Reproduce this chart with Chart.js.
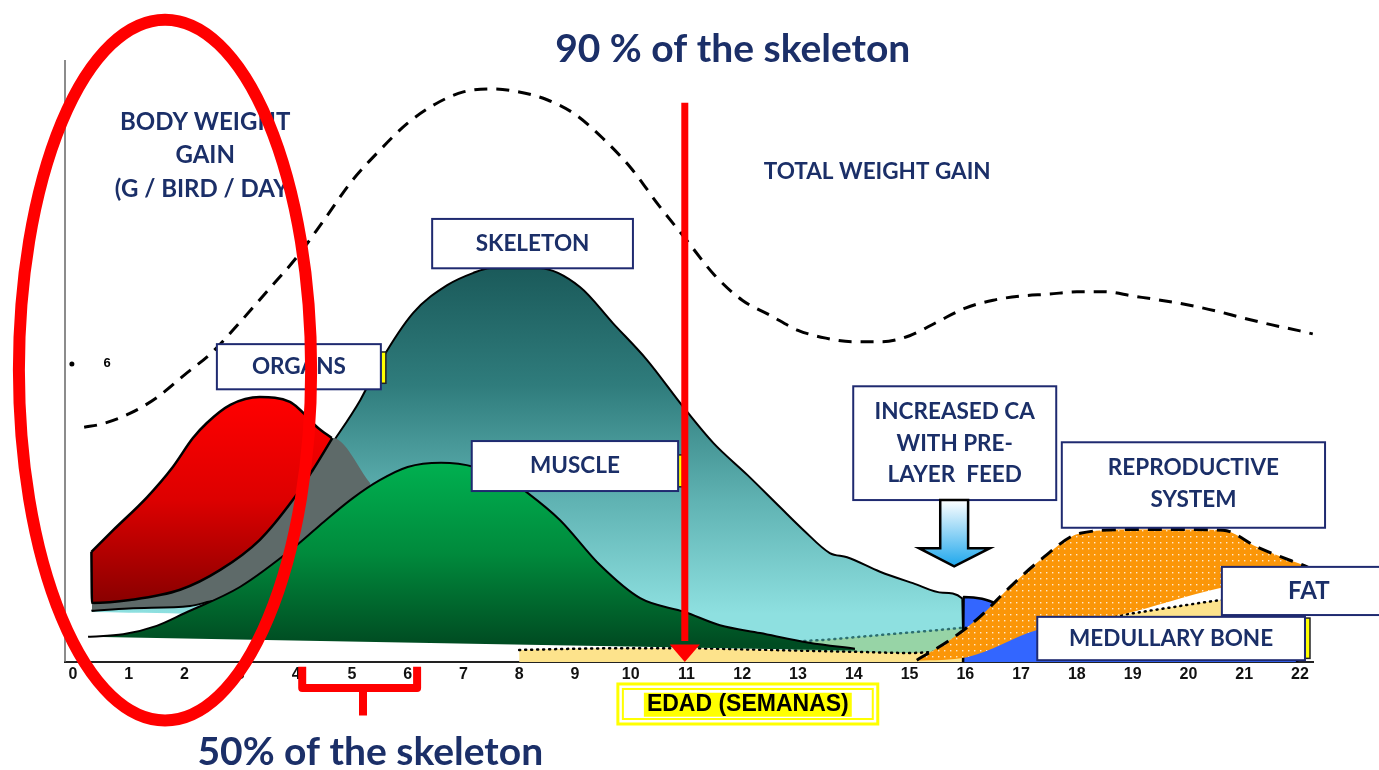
<!DOCTYPE html>
<html lang="en">
<head>
    <meta charset="UTF-8" />
    <title>Body weight gain (g / bird / day)</title>
    <style>
        body { margin: 0; background: #fff; }
        canvas { display: block; }
    </style>
</head>
<body>
    <canvas id="gainChart" width="1379" height="770"></canvas>

    <script src="https://cdn.jsdelivr.net/npm/chart.js@4.4.0/dist/chart.umd.min.js"></script>
    <script>
        // x axis: age in weeks
        const weekTicks = [0, 1, 2, 3, 4, 5, 6, 7, 8, 9, 10, 11, 12, 13, 14, 15, 16, 17, 18, 19, 20, 21, 22];

        // total weight gain (dashed line)
        const totalWeeks = [0.2, 0.5, 1, 1.5, 2, 2.5, 3, 3.5, 4, 4.5, 5, 5.5, 6, 6.5, 7, 7.5, 8, 8.5, 9, 9.5, 10, 10.5, 11, 11.5, 12, 12.5, 13, 13.5, 14, 14.5, 15, 15.5, 16, 16.5, 17, 17.5, 18, 18.5, 19, 19.5, 20, 20.5, 21, 21.5, 22, 22.23];
        const totalGain = [39.0, 39.5, 41.2, 43.9, 47.7, 51.5, 56.5, 61.8, 67.1, 73.4, 79.9, 85.0, 89.5, 92.7, 94.7, 95.2, 94.7, 93.4, 91.0, 87.0, 82.1, 75.9, 70.1, 64.3, 60.1, 57.6, 55.1, 53.8, 53.2, 53.2, 54.2, 56.5, 58.8, 60.1, 60.8, 61.1, 61.5, 61.5, 60.8, 60.1, 59.3, 58.3, 57.1, 56.0, 55.0, 54.5];

        // skeleton (top edge and lower edge)
        const skeletonWeeks = [0.33, 1.02, 1.92, 2.64, 3.35, 3.94, 4.30, 4.66, 5.15, 5.5, 6.1, 6.71, 7.17, 7.48, 8.37, 9.09, 9.68, 10.29, 10.94, 11.48, 12.1, 12.68, 13.1, 13.57, 13.88, 14.47, 15.06, 15.6, 15.94, 15.97];
        const skeletonGain = [8.5, 10.0, 11.6, 15.0, 19.9, 26.6, 31.6, 36.5, 43.5, 49.7, 58.0, 62.6, 64.6, 65.4, 65.4, 62.3, 56.3, 50.2, 42.4, 36.4, 31.0, 25.7, 21.9, 18.1, 17.4, 15.0, 13.1, 11.5, 10.6, 0];
        const skeletonBaseWeeks = [0.33, 1.0, 2.0, 2.5, 3.0, 5.0, 13.4, 13.6, 15.97];
        const skeletonBaseGain = [8.3, 8.2, 8.0, 7.0, 5.0, 4.2, 3.2, 3.0, 0];

        // shadow band between organs and muscle
        const shadowWeeks = [0.34, 1.02, 1.92, 2.64, 3.35, 3.94, 4.30, 4.66, 5.33];
        const shadowGain = [9.6, 10.3, 12.0, 15.3, 20.3, 26.9, 31.9, 37.2, 29.7];
        const shadowBaseWeeks = [0.34, 1.0, 2.1, 2.6, 3.2, 5.4];
        const shadowBaseGain = [8.5, 8.9, 9.3, 10.2, 9.0, 8.0];

        // light green band under the skeleton tail
        const tailWeeks = [12.9, 13.5, 14, 14.5, 15, 15.5, 15.96];
        const tailGain = [3.4, 3.7, 4.1, 4.5, 4.9, 5.3, 5.7];

        // fat
        const fatWeeks = [8, 9, 10, 11, 12, 13, 14, 15, 16, 17, 18, 18.77, 19.5, 20.6, 21.5];
        const fatGain = [2.0, 2.2, 2.3, 2.3, 2.1, 1.9, 1.7, 1.5, 2.5, 5.0, 7.2, 7.8, 8.8, 10.3, 11.0];

        // muscle (top edge and lower edge)
        const muscleWeeks = [0.27, 0.9, 1.5, 2.0, 3.0, 4.0, 4.5, 5.0, 5.5, 6.0, 6.6, 7.2, 7.9, 8.15, 8.73, 9.45, 10.17, 10.97, 11.6, 12.32, 13.2, 14.02];
        const muscleGain = [4.2, 4.6, 6.0, 8.1, 12.5, 19.3, 23.3, 27.1, 30.2, 32.4, 33.1, 32.4, 29.7, 28.1, 23.6, 16.1, 10.6, 8.3, 6.1, 4.8, 3.2, 2.2];
        const muscleBaseWeeks = [0.27, 14.02];
        const muscleBaseGain = [4.2, 1.9];

        // organs (top edge and lower edge, the lower edge holds the left side)
        const organsWeeks = [0.33, 0.72, 1.33, 1.79, 2.15, 2.40, 2.82, 3.35, 3.89, 4.07, 4.38, 4.64];
        const organsGain = [18.3, 21.9, 27.4, 32.4, 37.2, 39.7, 42.7, 44.0, 43.2, 41.9, 39.0, 37.2];
        const organsBaseWeeks = [0.33, 0.34, 1.02, 1.92, 2.64, 3.35, 3.94, 4.30, 4.65];
        const organsBaseGain = [18.3, 9.8, 10.3, 12.0, 15.3, 20.3, 26.9, 31.9, 37.2];

        // medullary bone
        const boneWeeks = [15.96, 15.97, 16.3, 16.6, 17.0, 17.5, 18.0, 21.9, 21.95];
        const boneGain = [0, 10.8, 10.5, 9.5, 7.5, 6.5, 6.0, 6.0, 0];

        // reproductive system (top edge and lower edge)
        const reproWeeks = [15.13, 15.73, 16.26, 16.75, 17.34, 18.06, 19.0, 20.0, 20.62, 21.23, 21.82, 22.13, 22.23];
        const reproGain = [0.3, 3.7, 7.5, 12.0, 16.9, 21.4, 22.0, 22.0, 21.9, 19.1, 16.9, 15.8, 15.2];
        const reproBaseWeeks = [15.13, 16.03, 17.29, 18.77, 20.57, 22.23];
        const reproBaseGain = [0.2, 0.8, 5.3, 7.8, 12.3, 14.8];

        const navy = '#1b2f68';

        function pts(xs, ys) {
            return xs.map((x, i) => ({ x: x, y: ys[i] }));
        }

        // vertical gradient between two y values
        function vGradient(topVal, bottomVal, colors) {
            return function (context) {
                const chart = context.chart;
                if (!chart.chartArea) return colors[0];
                const y = chart.scales.y;
                const g = chart.ctx.createLinearGradient(0, y.getPixelForValue(topVal), 0, y.getPixelForValue(bottomVal));
                colors.forEach((c, i) => g.addColorStop(i / (colors.length - 1), c));
                return g;
            };
        }

        function dotPattern() {
            const c = document.createElement('canvas');
            c.width = 6;
            c.height = 6;
            const p = c.getContext('2d');
            p.fillStyle = '#fb9608';
            p.fillRect(0, 0, 6, 6);
            p.fillStyle = 'rgba(255,255,255,0.8)';
            p.fillRect(2, 2, 1.4, 1.4);
            return p.createPattern(c, 'repeat');
        }

        const line = { pointRadius: 0, cubicInterpolationMode: 'monotone', borderColor: '#000' };

        // drawing of labels, arrows and marks on top of the chart
        const notesPlugin = {
            id: 'notes',
            beforeDatasetsDraw(chart) {
                const ctx = chart.ctx;
                const a = chart.chartArea;
                ctx.save();
                ctx.strokeStyle = '#666';
                ctx.lineWidth = 1.5;
                ctx.beginPath();
                ctx.moveTo(a.left, a.top);
                ctx.lineTo(a.left, a.bottom);
                ctx.stroke();
                ctx.restore();
            },
            afterDraw(chart) {
                const ctx = chart.ctx;
                const X = w => chart.scales.x.getPixelForValue(w);
                const Y = v => chart.scales.y.getPixelForValue(v);
                const boldLato = s => 'bold ' + s + 'px Lato, "Open Sans", sans-serif';

                function text(str, w, v, size, color, font) {
                    ctx.font = font || boldLato(size);
                    ctx.fillStyle = color || navy;
                    ctx.textAlign = 'center';
                    ctx.textBaseline = 'middle';
                    ctx.fillText(str, X(w), Y(v));
                }

                function box(w1, v1, w2, v2, lines, size) {
                    const x = X(w1), y = Y(v1), bw = X(w2) - x, bh = Y(v2) - y;
                    ctx.fillStyle = '#fff';
                    ctx.fillRect(x, y, bw, bh);
                    ctx.strokeStyle = '#1f2a70';
                    ctx.lineWidth = 2;
                    ctx.strokeRect(x, y, bw, bh);
                    lines.forEach(l => text(l[0], l[1] === undefined ? (w1 + w2) / 2 : l[1], l[2], size));
                }

                function tab(w1, v1, w2, v2) {
                    const x = X(w1), y = Y(v1);
                    ctx.fillStyle = '#ffff00';
                    ctx.fillRect(x, y, X(w2) - x, Y(v2) - y);
                    ctx.strokeStyle = '#222';
                    ctx.lineWidth = 1.5;
                    ctx.strokeRect(x, y, X(w2) - x, Y(v2) - y);
                }

                ctx.save();

                // y axis marker
                ctx.fillStyle = '#000';
                ctx.beginPath();
                ctx.arc(X(-0.02), Y(49.5), 2.5, 0, Math.PI * 2);
                ctx.fill();
                text('6', 0.61, 49.6, 0, '#000', 'bold 13px "Liberation Sans", Arial, sans-serif');

                // label boxes
                tab(5.52, 51.5, 5.61, 46.3);
                box(2.58, 52.8, 5.52, 45.3, [['ORGANS', undefined, 49.1]], 22.5);
                box(6.44, 73.6, 10.04, 65.4, [['SKELETON', undefined, 69.5]], 22.5);
                tab(10.85, 34.4, 10.93, 29.1);
                box(7.15, 36.7, 10.85, 28.4, [['MUSCLE', undefined, 32.6]], 22.5);
                box(13.99, 45.8, 17.63, 26.9, [['INCREASED CA', undefined, 41.5], ['WITH PRE-', undefined, 36.2], ['LAYER  FEED', undefined, 31.1]], 22.5);
                box(17.73, 36.5, 22.45, 22.3, [['REPRODUCTIVE', undefined, 32.2], ['SYSTEM', undefined, 26.9]], 22.5);
                box(20.6, 15.8, 23.6, 7.8, [['FAT', 22.16, 11.8]], 24);
                tab(22.09, 7.3, 22.18, 0.6);
                box(17.29, 7.5, 22.09, 0.3, [['MEDULLARY BONE', undefined, 3.9]], 22.5);

                // blue arrow under the pre-layer feed box
                const g = ctx.createLinearGradient(0, Y(26.9), 0, Y(15.9));
                g.addColorStop(0, '#ffffff');
                g.addColorStop(1, '#1ea7ec');
                ctx.beginPath();
                ctx.moveTo(X(15.55), Y(26.9));
                ctx.lineTo(X(16.05), Y(26.9));
                ctx.lineTo(X(16.05), Y(18.9));
                ctx.lineTo(X(16.44), Y(18.9));
                ctx.lineTo(X(15.80), Y(15.9));
                ctx.lineTo(X(15.17), Y(18.9));
                ctx.lineTo(X(15.55), Y(18.9));
                ctx.closePath();
                ctx.fillStyle = g;
                ctx.fill();
                ctx.strokeStyle = '#000';
                ctx.lineWidth = 2.5;
                ctx.stroke();

                // free texts
                text('BODY WEIGHT', 2.37, 89.7, 24);
                text('GAIN', 2.37, 84.1, 24);
                text('(G / BIRD / DAY)', 2.37, 78.6, 24);
                text('TOTAL WEIGHT GAIN', 14.42, 81.4, 22.5);
                text('90 % of the skeleton', 11.83, 101.7, 39);
                text('50% of the skeleton', 5.33, -15.0, 39);

                // axis title box
                const ex = X(9.77), ey = Y(-3.65), ew = X(14.43) - ex, eh = Y(-10.3) - ey;
                ctx.strokeStyle = '#ffff00';
                ctx.lineWidth = 3;
                ctx.strokeRect(ex, ey, ew, eh);
                ctx.lineWidth = 2;
                ctx.strokeRect(ex + 5, ey + 5, ew - 10, eh - 10);
                const edadFont = 'bold 23px "Liberation Sans", Arial, sans-serif';
                ctx.font = edadFont;
                const tw = ctx.measureText('EDAD (SEMANAS)').width;
                ctx.fillStyle = '#ffff00';
                ctx.fillRect(X(12.10) - tw / 2 - 3, Y(-7.1) - 12, tw + 6, 24);
                text('EDAD (SEMANAS)', 12.10, -7.1, 0, '#000', edadFont);

                // red arrow at week 11
                ctx.strokeStyle = '#ff0000';
                ctx.fillStyle = '#ff0000';
                ctx.lineWidth = 7;
                ctx.beginPath();
                ctx.moveTo(X(10.97), Y(92.9));
                ctx.lineTo(X(10.97), Y(3.5));
                ctx.stroke();
                ctx.beginPath();
                ctx.moveTo(X(10.70), Y(2.9));
                ctx.lineTo(X(11.24), Y(2.9));
                ctx.lineTo(X(10.97), Y(0));
                ctx.closePath();
                ctx.fill();

                // red ellipse around the first weeks
                ctx.lineWidth = 12;
                ctx.beginPath();
                ctx.ellipse(X(1.65), Y(48.5), X(1.65 + 2.62) - X(1.65), Y(48.5 - 58.2) - Y(48.5), 0, 0, Math.PI * 2);
                ctx.stroke();

                // red brace under weeks 4 to 6
                ctx.lineWidth = 8;
                ctx.lineJoin = 'round';
                ctx.beginPath();
                ctx.moveTo(X(4.11), Y(-0.8));
                ctx.lineTo(X(4.11), Y(-4.3));
                ctx.lineTo(X(6.17), Y(-4.3));
                ctx.lineTo(X(6.17), Y(-0.8));
                ctx.moveTo(X(5.2), Y(-4.3));
                ctx.lineTo(X(5.2), Y(-8.9));
                ctx.stroke();

                ctx.restore();
            }
        };

        const chart = new Chart(document.getElementById('gainChart').getContext('2d'), {
            type: 'line',
            data: {
                datasets: [
                    Object.assign({}, line, {
                        label: 'Skeleton', data: pts(skeletonWeeks, skeletonGain), fill: '+1', borderWidth: 2, order: 10,
                        backgroundColor: vGradient(65, 8, ['#1b5b5b', '#2f7c7c', '#5fb2b2', '#8ee0e0'])
                    }),
                    Object.assign({}, line, { label: 'skeleton base', data: pts(skeletonBaseWeeks, skeletonBaseGain), fill: false, borderWidth: 0, order: 11 }),
                    Object.assign({}, line, {
                        label: 'tail', data: pts(tailWeeks, tailGain), fill: 'origin', backgroundColor: '#97d4a6',
                        borderColor: '#2d6f70', borderWidth: 2.5, borderDash: [1, 5], borderCapStyle: 'round', order: 9
                    }),
                    Object.assign({}, line, {
                        label: 'Fat', data: pts(fatWeeks, fatGain), fill: 'origin', backgroundColor: '#fde38c',
                        borderWidth: 2.5, borderDash: [1, 5], borderCapStyle: 'round', order: 8
                    }),
                    Object.assign({}, line, { label: 'shadow', data: pts(shadowWeeks, shadowGain), fill: '+1', backgroundColor: '#5e6a69', borderWidth: 0, order: 7 }),
                    Object.assign({}, line, { label: 'shadow base', data: pts(shadowBaseWeeks, shadowBaseGain), fill: false, borderWidth: 2, order: 6 }),
                    Object.assign({}, line, {
                        label: 'Muscle', data: pts(muscleWeeks, muscleGain), fill: '+1', borderWidth: 2, order: 5,
                        backgroundColor: vGradient(33, 3, ['#00b050', '#008a3c', '#004c22'])
                    }),
                    Object.assign({}, line, { label: 'muscle base', data: pts(muscleBaseWeeks, muscleBaseGain), fill: false, borderWidth: 0, order: 12 }),
                    Object.assign({}, line, {
                        label: 'Organs', data: pts(organsWeeks, organsGain), fill: '+1', borderWidth: 2.5, order: 4,
                        backgroundColor: vGradient(44, 10, ['#ff0000', '#dd0000', '#8a0000'])
                    }),
                    Object.assign({}, line, { label: 'organs base', data: pts(organsBaseWeeks, organsBaseGain), fill: false, borderWidth: 2.5, order: 3 }),
                    Object.assign({}, line, {
                        label: 'Medullary bone', data: pts(boneWeeks, boneGain), fill: 'origin', backgroundColor: '#3366ff',
                        borderWidth: 2.5, order: 2
                    }),
                    Object.assign({}, line, {
                        label: 'Reproductive system', data: pts(reproWeeks, reproGain), fill: '+1', backgroundColor: dotPattern(),
                        borderWidth: 3, borderDash: [14, 9], order: 1
                    }),
                    Object.assign({}, line, { label: 'repro base', data: pts(reproBaseWeeks, reproBaseGain), fill: false, borderWidth: 0, order: 13 }),
                    Object.assign({}, line, {
                        label: 'Total weight gain', data: pts(totalWeeks, totalGain), fill: false,
                        borderWidth: 3, borderDash: [13, 9], order: 0
                    })
                ]
            },
            options: {
                responsive: false,
                animation: false,
                devicePixelRatio: 1,
                layout: { padding: { left: 65, top: 60, right: 66, bottom: 76 } },
                plugins: { legend: { display: false }, tooltip: { enabled: false } },
                scales: {
                    x: {
                        type: 'linear',
                        min: -0.1434,
                        max: 22.234,
                        grid: { display: false },
                        border: { display: true, color: '#222', width: 2 },
                        afterBuildTicks: scale => { scale.ticks = weekTicks.map(v => ({ value: v })); },
                        afterFit: scale => { scale.height = 32; },
                        ticks: {
                            autoSkip: false,
                            maxRotation: 0,
                            padding: -5,
                            color: '#111',
                            font: { family: '"Liberation Sans", Arial, sans-serif', size: 16, weight: 'bold' }
                        }
                    },
                    y: { display: false, min: 0, max: 100 }
                }
            },
            plugins: [notesPlugin]
        });
    </script>
</body>
</html>
